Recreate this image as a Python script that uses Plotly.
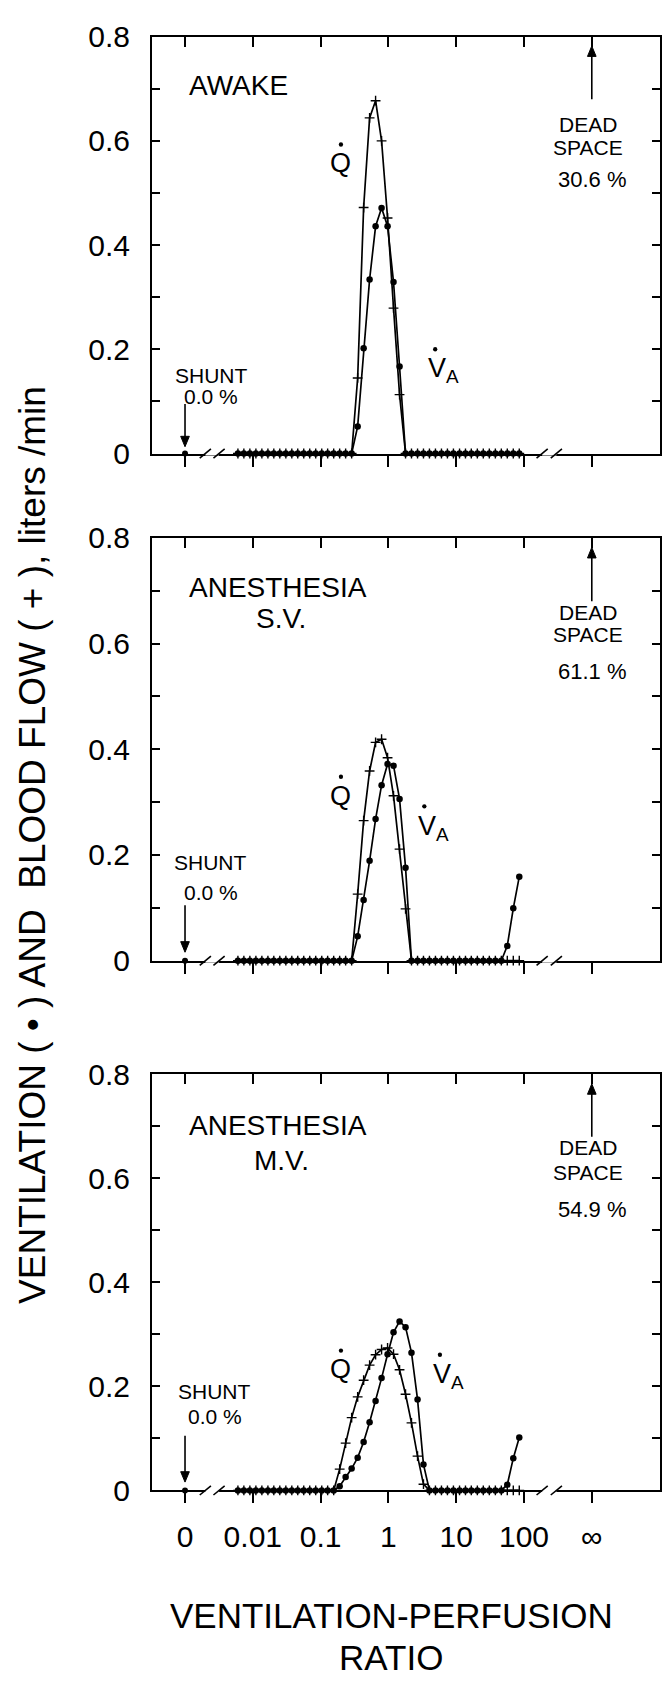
import math
import plotly.graph_objects as go

# ---------------- data ----------------
# VA/Q compartment ratios (48 compartments between shunt and dead space)
VAQ_RATIO = [0.00603, 0.00738, 0.00905, 0.0111, 0.0136, 0.0167, 0.0204, 0.0250, 0.0307, 0.0376,
             0.0460, 0.0564, 0.0691, 0.0847, 0.104, 0.127, 0.156, 0.191, 0.234, 0.287,
             0.352, 0.431, 0.528, 0.647, 0.793, 0.972, 1.19, 1.46, 1.79, 2.19,
             2.69, 3.29, 4.03, 4.94, 6.06, 7.42, 9.10, 11.2, 13.7, 16.7,
             20.5, 25.1, 30.8, 37.8, 46.3, 56.7, 69.5, 85.2]

X_TICK_VALS = [0.001, 0.01, 0.1, 1, 10, 100, 1000]
X_TICK_TEXT = ["0", "0.01", "0.1", "1", "10", "100", "\u221e"]
Y_TICK_VALS = [0, 0.2, 0.4, 0.6, 0.8]
Y_TICK_TEXT = ["0", "0.2", "0.4", "0.6", "0.8"]
Y_MINOR_VALS = [0.1, 0.3, 0.5, 0.7]

SHUNT_POS = 0.001     # the "0" position of the axis
DEAD_POS = 1000       # the "infinity" position of the axis

PANEL_NAME = ["AWAKE", "ANESTHESIA", "ANESTHESIA"]
PANEL_SUB = ["", "S.V.", "M.V."]
SHUNT_PCT = ["0.0 %", "0.0 %", "0.0 %"]
DEAD_PCT = ["30.6 %", "61.1 %", "54.9 %"]
SHUNT_FLOW = [0.0, 0.0, 0.0]

Q_AWAKE = [0, 0, 0, 0, 0, 0, 0, 0, 0, 0,
           0, 0, 0, 0, 0, 0, 0, 0, 0, 0,
           0.145, 0.472, 0.644, 0.677, 0.600, 0.452, 0.279, 0.113, 0, 0,
           0, 0, 0, 0, 0, 0, 0, 0, 0, 0,
           0, 0, 0, 0, 0, 0, 0, 0]
VA_AWAKE = [0, 0, 0, 0, 0, 0, 0, 0, 0, 0,
            0, 0, 0, 0, 0, 0, 0, 0, 0, 0,
            0.052, 0.202, 0.334, 0.436, 0.471, 0.436, 0.329, 0.167, 0, 0,
            0, 0, 0, 0, 0, 0, 0, 0, 0, 0,
            0, 0, 0, 0, 0, 0, 0, 0]

Q_SV = [0, 0, 0, 0, 0, 0, 0, 0, 0, 0,
        0, 0, 0, 0, 0, 0, 0, 0, 0, 0,
        0.126, 0.265, 0.359, 0.413, 0.419, 0.384, 0.312, 0.211, 0.098, 0,
        0, 0, 0, 0, 0, 0, 0, 0, 0, 0,
        0, 0, 0, 0, 0, 0, 0, 0]
VA_SV = [0, 0, 0, 0, 0, 0, 0, 0, 0, 0,
         0, 0, 0, 0, 0, 0, 0, 0, 0, 0,
         0.046, 0.115, 0.189, 0.268, 0.332, 0.372, 0.369, 0.306, 0.176, 0,
         0, 0, 0, 0, 0, 0, 0, 0, 0, 0,
         0, 0, 0, 0, 0, 0.028, 0.099, 0.159]

Q_MV = [0, 0, 0, 0, 0, 0, 0, 0, 0, 0,
        0, 0, 0, 0, 0, 0, 0, 0.041, 0.091, 0.140,
        0.180, 0.212, 0.241, 0.261, 0.271, 0.274, 0.262, 0.232, 0.185, 0.130,
        0.066, 0.012, 0, 0, 0, 0, 0, 0, 0, 0,
        0, 0, 0, 0, 0, 0, 0, 0]
VA_MV = [0, 0, 0, 0, 0, 0, 0, 0, 0, 0,
         0, 0, 0, 0, 0, 0, 0, 0.008, 0.026, 0.042,
         0.063, 0.093, 0.131, 0.172, 0.216, 0.262, 0.304, 0.325, 0.314, 0.265,
         0.175, 0.050, 0, 0, 0, 0, 0, 0, 0, 0,
         0, 0, 0, 0, 0, 0.011, 0.062, 0.102]

Q_SERIES = [Q_AWAKE, Q_SV, Q_MV]
VA_SERIES = [VA_AWAKE, VA_SV, VA_MV]

# ---------------- style / layout ----------------
W, H = 669, 1683
FONT = "Liberation Sans"
X_RANGE = [-3.487, 4.006]
X_DOM = [152 / W, 660 / W]
FRAMES_PX = [(21, 446), (532, 963), (1079, 1503)]
Y_DOMS = [[1 - b / H, 1 - t / H] for t, b in FRAMES_PX]


def dom_frac_log(lv):
    """fraction of the x-axis domain for a log10 axis position"""
    return (lv - X_RANGE[0]) / (X_RANGE[1] - X_RANGE[0])


# label positions (x in decades on the log axis, y in axis units)
STYLE = [
    dict(name_y=0.707, sub_y=None, q=(-0.70, 0.557), va=(0.56, 0.160), sh=(-2.61, 0.150, 0.110),
         arr=(0.095, 0.013), dead=(0.632, 0.588, 0.525)),
    dict(name_y=0.706, sub_y=0.647, q=(-0.70, 0.312), va=(0.40, 0.252), sh=(-2.62, 0.186, 0.129),
         arr=(0.105, 0.016), dead=(0.658, 0.617, 0.548)),
    dict(name_y=0.701, sub_y=0.635, q=(-0.70, 0.233), va=(0.63, 0.221), sh=(-2.56, 0.190, 0.142),
         arr=(0.105, 0.016), dead=(0.660, 0.611, 0.541)),
]

fig = go.Figure()
annotations = []
shapes = []


def txt(xr, yr, x, y, text, size, xanchor="center", yanchor="middle"):
    annotations.append(dict(xref=xr, yref=yr, x=x, y=y, text=text, showarrow=False,
                            xanchor=xanchor, yanchor=yanchor,
                            font=dict(family=FONT, size=size, color="black")))


def dot_shape(xd, ya, lv, y):
    f = dom_frac_log(lv)
    rx, ry = 0.0042, 0.0042
    shapes.append(dict(type="circle", xref=xd, yref=ya, x0=f - rx, x1=f + rx, y0=y - ry, y1=y + ry,
                       fillcolor="black", line=dict(color="black", width=0), layer="above"))


def arrow_shape(xd, ya, pos, y_from, y_tip):
    f = dom_frac_log(math.log10(pos))
    head = 0.020 if y_tip > y_from else -0.020
    shapes.append(dict(type="line", xref=xd, yref=ya, x0=f, x1=f, y0=y_from, y1=y_tip - head * 0.6,
                       line=dict(color="black", width=1.6), layer="above"))
    hw = 0.0085
    path = f"M {f - hw} {y_tip - head} L {f + hw} {y_tip - head} L {f} {y_tip} Z"
    shapes.append(dict(type="path", xref=xd, yref=ya, path=path, fillcolor="black",
                       line=dict(color="black", width=1), layer="above"))


for k in range(3):
    xb = "x" if k == 0 else f"x{k + 1}"
    xt = f"x{k + 4}"
    ya = "y" if k == 0 else f"y{k + 1}"
    fig.add_trace(go.Scatter(x=VAQ_RATIO, y=Q_SERIES[k], xaxis=xb, yaxis=ya, mode="lines+markers",
                             line=dict(color="black", width=1.7),
                             marker=dict(symbol="cross-thin", size=7, line=dict(width=1.4, color="black")),
                             cliponaxis=False, showlegend=False, hoverinfo="skip"))
    fig.add_trace(go.Scatter(x=VAQ_RATIO, y=VA_SERIES[k], xaxis=xb, yaxis=ya, mode="lines+markers",
                             line=dict(color="black", width=1.7),
                             marker=dict(symbol="circle", size=6.5, color="black"),
                             cliponaxis=False, showlegend=False, hoverinfo="skip"))
    fig.add_trace(go.Scatter(x=[SHUNT_POS], y=[SHUNT_FLOW[k]], xaxis=xt, yaxis=ya, mode="markers",
                             marker=dict(symbol="circle", size=6, color="black"),
                             cliponaxis=False, showlegend=False, hoverinfo="skip"))

    axb = dict(domain=X_DOM, anchor=ya, type="log", range=X_RANGE,
               tickmode="array", tickvals=X_TICK_VALS, ticktext=X_TICK_TEXT,
               showticklabels=(k == 2), ticks="outside", ticklen=11, tickwidth=1.6,
               tickcolor="black", showline=True, linewidth=2, linecolor="black",
               showgrid=False, zeroline=False, ticklabelstandoff=8,
               tickfont=dict(family=FONT, size=30, color="black"))
    axt = dict(overlaying=xb, anchor=ya, side="top", type="log", range=X_RANGE,
               tickmode="array", tickvals=X_TICK_VALS, showticklabels=False,
               ticks="inside", ticklen=10, tickwidth=1.6, tickcolor="black",
               showline=True, linewidth=2, linecolor="black", showgrid=False, zeroline=False)
    ayy = dict(domain=Y_DOMS[k], anchor=xb, range=[0, 0.8], tickmode="array",
               tickvals=Y_TICK_VALS, ticktext=Y_TICK_TEXT, ticks="inside", ticklen=8,
               tickwidth=1.6, tickcolor="black", mirror="ticks", showline=True, linewidth=2,
               linecolor="black", showgrid=False, zeroline=False, ticklabelstandoff=14,
               minor=dict(tickmode="array", tickvals=Y_MINOR_VALS, ticks="inside", ticklen=8,
                          tickwidth=1.6, tickcolor="black", showgrid=False),
               tickfont=dict(family=FONT, size=30, color="black"))
    fig.update_layout(**{("xaxis" if k == 0 else f"xaxis{k + 1}"): axb,
                         f"xaxis{k + 4}": axt,
                         ("yaxis" if k == 0 else f"yaxis{k + 1}"): ayy})

    st = STYLE[k]
    xd, yd = f"{xb} domain", f"{ya} domain"
    # panel name
    txt(xb, ya, -2.97, st["name_y"], PANEL_NAME[k], 28, xanchor="left")
    if PANEL_SUB[k]:
        txt(xb, ya, -1.58, st["sub_y"], PANEL_SUB[k], 28)
    # Q and VA labels with dot above
    qx, qy = st["q"]
    txt(xb, ya, qx, qy, "Q", 27)
    dot_shape(xd, ya, qx, qy + 0.036)
    vx, vy = st["va"]
    txt(xb, ya, vx, vy, "V<sub>A</sub>", 27, xanchor="left")
    dot_shape(xd, ya, vx + 0.13, vy + 0.040)
    # shunt
    sx, sy1, sy2 = st["sh"]
    txt(xb, ya, sx, sy1, "SHUNT", 21)
    txt(xb, ya, sx, sy2, SHUNT_PCT[k], 21)
    a0, a1 = st["arr"]
    arrow_shape(xd, ya, SHUNT_POS, a0, a1)
    # dead space
    d1, d2, d3 = st["dead"]
    txt(xb, ya, 2.94, d1, "DEAD", 21)
    txt(xb, ya, 2.94, d2, "SPACE", 21)
    txt(xb, ya, 3.01, d3, DEAD_PCT[k], 22)
    arrow_shape(xd, ya, DEAD_POS, 0.68, 0.782)

    # axis breaks "//"
    for f1, f2 in [(0.105, 0.132), (0.768, 0.796)]:
        shapes.append(dict(type="line", xref=xd, yref=yd, x0=f1, x1=f2, y0=0, y1=0,
                           line=dict(color="white", width=4), layer="above"))
        for f in (f1, f2):
            shapes.append(dict(type="line", xref=xd, yref=yd, x0=f - 0.011, x1=f + 0.011,
                               y0=-0.011, y1=0.011, line=dict(color="black", width=1.6),
                               layer="above"))

# axis titles
annotations.append(dict(xref="paper", yref="paper", x=33 / W, y=1 - 845 / H,
                        text="VENTILATION ( \u2022 ) AND\u00a0\u00a0BLOOD FLOW ( + ), liters /min",
                        textangle=-90, showarrow=False, xanchor="center", yanchor="middle",
                        font=dict(family=FONT, size=37, color="black")))
annotations.append(dict(xref="paper", yref="paper", x=391 / W, y=1 - 1631 / H,
                        text="VENTILATION-PERFUSION", showarrow=False,
                        xanchor="center", yanchor="middle",
                        font=dict(family=FONT, size=35, color="black")))
annotations.append(dict(xref="paper", yref="paper", x=391 / W, y=1 - 1673 / H,
                        text="RATIO", showarrow=False, xanchor="center", yanchor="middle",
                        font=dict(family=FONT, size=35, color="black")))

fig.update_layout(width=W, height=H, margin=dict(l=0, r=0, t=0, b=0),
                  paper_bgcolor="white", plot_bgcolor="white", showlegend=False,
                  annotations=annotations, shapes=shapes)

fig.write_html("out.html", config={"displayModeBar": False},
               post_script="document.body.style.margin='0px';")
